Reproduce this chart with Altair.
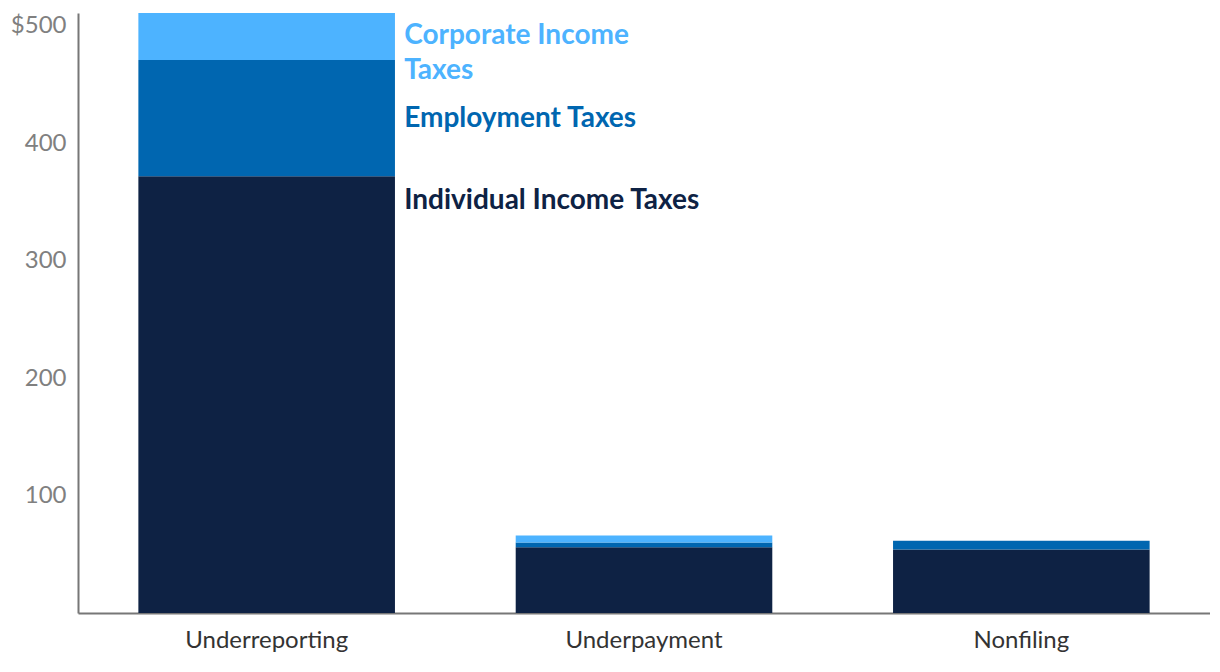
import altair as alt
import pandas as pd

categories = ["Underreporting", "Underpayment", "Nonfiling"]
series = ["Individual Income Taxes", "Employment Taxes", "Corporate Income Taxes"]
individual = [372, 56, 54]
employment = [99, 4, 7.5]
corporate = [40, 6, 0]
colors = ["#0E2244", "#0066B0", "#4DB3FF"]

rows = []
for i, c in enumerate(categories):
    for s, vals, order in zip(series, [individual, employment, corporate], [0, 1, 2]):
        rows.append({"category": c, "series": s, "value": vals[i], "order": order})
df = pd.DataFrame(rows)

label_text = ["Corporate Income", "Taxes", "Employment Taxes", "Individual Income Taxes"]
label_series = ["Corporate Income Taxes", "Corporate Income Taxes", "Employment Taxes", "Individual Income Taxes"]
label_y = [491, 462, 420.5, 350.5]
labels = pd.DataFrame({"category": ["Underreporting"] * 4, "text": label_text,
                       "series": label_series, "y": label_y})

xscale = alt.Scale(domain=categories, paddingInner=0.32, paddingOuter=0.16)
yscale = alt.Scale(domain=[0, 511], nice=False)
cscale = alt.Scale(domain=series, range=colors)

bars = alt.Chart(df).mark_bar().encode(
    x=alt.X("category:N", scale=xscale, sort=categories, title=None,
            axis=alt.Axis(labelAngle=0, labelFont="Lato", labelFontSize=24,
                          labelColor="#333333", ticks=False, domainColor="#777777",
                          domainWidth=2, labelPadding=15)),
    y=alt.Y("value:Q", stack="zero", scale=yscale, title=None,
            axis=alt.Axis(values=[100, 200, 300, 400, 500], grid=False, ticks=False,
                          labelFont="Lato", labelFontSize=24, labelColor="#808080",
                          domainColor="#777777", domainWidth=2, labelPadding=12,
                          labelExpr="datum.value == 500 ? '$500' : datum.label")),
    color=alt.Color("series:N", scale=cscale, legend=None),
    order=alt.Order("order:Q"),
)

text = alt.Chart(labels).mark_text(align="left", baseline="middle", dx=137.5,
                                   font="Lato", fontSize=28, fontWeight="bold").encode(
    x=alt.X("category:N", scale=xscale, sort=categories),
    y=alt.Y("y:Q", scale=yscale),
    text="text:N",
    color=alt.Color("series:N", scale=cscale, legend=None),
)

chart = alt.layer(bars, text).properties(
    width=1132, height=600,
    autosize=alt.AutoSizeParams(type="none"),
    padding={"left": 70, "top": 5, "right": 0, "bottom": 50},
).configure_view(stroke=None)

chart.save("out.html", embed_options={"renderer": "svg", "actions": False})
